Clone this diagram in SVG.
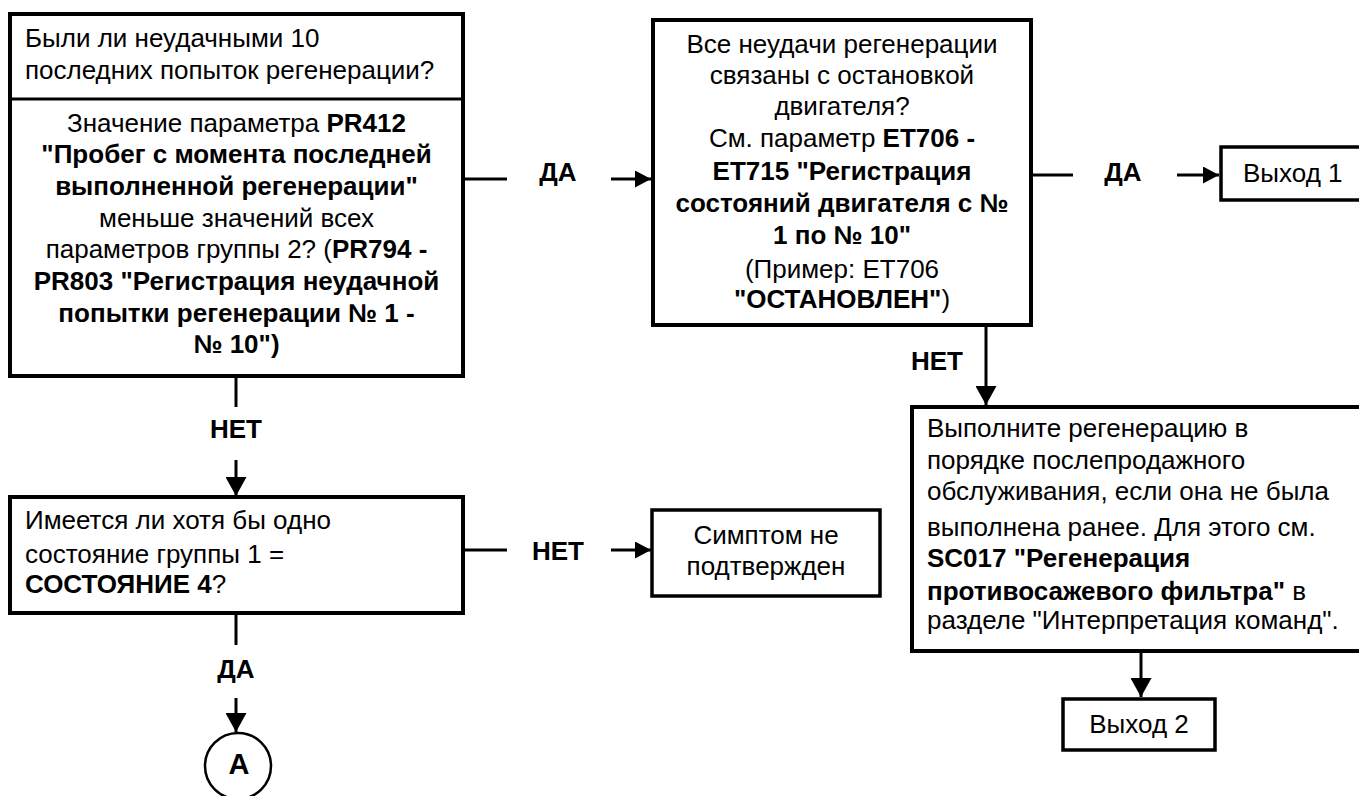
<svg xmlns="http://www.w3.org/2000/svg" width="1359" height="796" viewBox="0 0 1359 796">
<style>
text{font-family:"Liberation Sans",Arial,sans-serif;font-size:26px;fill:#000}
.b{font-weight:bold}
.c{text-anchor:middle}
.box{fill:#fff;stroke:#000;stroke-width:4}
.sbox{fill:#fff;stroke:#000;stroke-width:3.5}
.ln{fill:none;stroke:#000;stroke-width:3}
</style>
<defs>
<marker id="ah" markerUnits="userSpaceOnUse" markerWidth="16" markerHeight="17" refX="16" refY="8.5" orient="auto"><path d="M0,0 L16,8.5 L0,17 z" fill="#000"/></marker>
<marker id="av" markerUnits="userSpaceOnUse" markerWidth="19" markerHeight="21" refX="19" refY="10.5" orient="auto"><path d="M0,0 L19,10.5 L0,21 z" fill="#000"/></marker>
</defs>
<g id="connectors">
<line class="ln" x1="463" y1="179" x2="507" y2="179"/>
<text class="b c" x="558" y="181">ДА</text>
<line class="ln" x1="611" y1="179" x2="651" y2="179" marker-end="url(#ah)"/>
<line class="ln" x1="1031" y1="175" x2="1073" y2="175"/>
<text class="b c" x="1123" y="181">ДА</text>
<line class="ln" x1="1177" y1="175" x2="1219" y2="175" marker-end="url(#ah)"/>
<line class="ln" x1="986" y1="327" x2="986" y2="405" marker-end="url(#av)"/>
<text class="b c" x="937" y="370">НЕТ</text>
<line class="ln" x1="236" y1="376" x2="236" y2="407"/>
<text class="b c" x="236" y="438">НЕТ</text>
<line class="ln" x1="236" y1="460" x2="236" y2="496" marker-end="url(#av)"/>
<line class="ln" x1="463" y1="550" x2="507" y2="550"/>
<text class="b c" x="558" y="560">НЕТ</text>
<line class="ln" x1="611" y1="550" x2="651" y2="550" marker-end="url(#ah)"/>
<line class="ln" x1="236" y1="613" x2="236" y2="645"/>
<text class="b c" x="236" y="678">ДА</text>
<line class="ln" x1="236" y1="698" x2="236" y2="732" marker-end="url(#av)"/>
<line class="ln" x1="1141" y1="651" x2="1141" y2="697" marker-end="url(#av)"/>
</g>
<g id="q1">
<rect class="box" x="10" y="14" width="453" height="362"/>
<line class="ln" x1="10" y1="99" x2="463" y2="99"/>
<text x="25" y="47">Были ли неудачными 10</text>
<text x="25" y="79">последних попыток регенерации?</text>
<text class="c" x="236.5" y="132">Значение параметра <tspan class="b">PR412</tspan></text>
<text class="c b" x="236.5" y="163">"Пробег с момента последней</text>
<text class="c b" x="236.5" y="195">выполненной регенерации"</text>
<text class="c" x="236.5" y="227">меньше значений всех</text>
<text class="c" x="236.5" y="258">параметров группы 2? (<tspan class="b">PR794 -</tspan></text>
<text class="c b" x="236.5" y="290">PR803 "Регистрация неудачной</text>
<text class="c b" x="236.5" y="322">попытки регенерации № 1 -</text>
<text class="c b" x="236.5" y="353">№ 10")</text>
</g>
<g id="q2">
<rect class="box" x="653" y="20" width="378" height="305"/>
<text class="c" x="842" y="53">Все неудачи регенерации</text>
<text class="c" x="842" y="84">связаны с остановкой</text>
<text class="c" x="842" y="115">двигателя?</text>
<text class="c" x="842" y="147">См. параметр <tspan class="b">ET706 -</tspan></text>
<text class="c b" x="842" y="180">ET715 "Регистрация</text>
<text class="c b" x="842" y="212">состояний двигателя с №</text>
<text class="c b" x="842" y="244">1 по № 10"</text>
<text class="c" x="842" y="278">(Пример: ET706</text>
<text class="c" x="842" y="308"><tspan class="b">"ОСТАНОВЛЕН"</tspan>)</text>
</g>
<g id="exit1">
<rect class="sbox" x="1221" y="147" width="142" height="53"/>
<text x="1243" y="182">Выход 1</text>
</g>
<g id="q3">
<rect class="box" x="10" y="497" width="453" height="116"/>
<text x="25" y="529">Имеется ли хотя бы одно</text>
<text x="25" y="563">состояние группы 1 =</text>
<text x="25" y="593"><tspan class="b">СОСТОЯНИЕ 4</tspan>?</text>
</g>
<g id="notconfirmed">
<rect class="sbox" x="652" y="510" width="228" height="86"/>
<text class="c" x="766" y="544">Симптом не</text>
<text class="c" x="766" y="575">подтвержден</text>
</g>
<g id="action">
<rect class="box" x="912" y="407" width="452" height="244"/>
<text x="927" y="437">Выполните регенерацию в</text>
<text x="927" y="469">порядке послепродажного</text>
<text x="927" y="500">обслуживания, если она не была</text>
<text x="927" y="536">выполнена ранее. Для этого см.</text>
<text x="927" y="567" class="b">SC017 "Регенерация</text>
<text x="927" y="600"><tspan class="b">противосажевого фильтра"</tspan> в</text>
<text x="927" y="629">разделе "Интерпретация команд".</text>
</g>
<g id="exit2">
<rect class="sbox" x="1063" y="699" width="152" height="51"/>
<text class="c" x="1139" y="733">Выход 2</text>
</g>
<g id="connA">
<circle cx="238" cy="766" r="33" fill="#fff" stroke="#000" stroke-width="2.5"/>
<text class="c b" x="239" y="774" style="font-size:29px">A</text>
</g>
</svg>
